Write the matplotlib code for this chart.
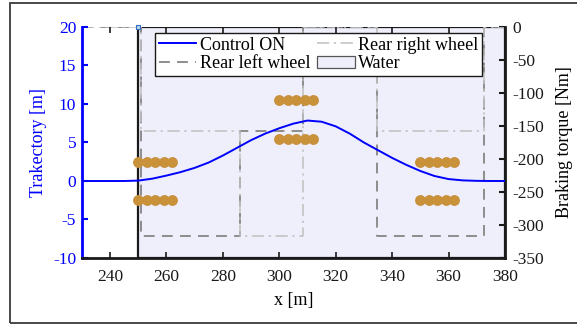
import matplotlib.pyplot as plt
from matplotlib.patches import Patch, Rectangle
from matplotlib.lines import Line2D

plt.rcParams['font.family'] = ['Liberation Serif', 'DejaVu Serif']
plt.rcParams['axes.unicode_minus'] = False

# vehicle trajectory (lateral position vs x)
traj_x = [230, 235, 240, 245, 250, 255, 260, 265, 270, 275, 280, 285, 290, 295,
          300, 305, 310, 315, 320, 325, 330, 335, 340, 345, 350, 355, 360, 365,
          370, 375, 380]
traj_y = [0, 0, 0, 0, 0.05, 0.3, 0.7, 1.15, 1.7, 2.4, 3.3, 4.3, 5.3, 6.15,
          6.85, 7.45, 7.85, 7.7, 7.1, 6.15, 5.0, 4.0, 3.0, 2.1, 1.3, 0.65, 0.25,
          0.08, 0.02, 0, 0]

# braking torque steps (value holds until next breakpoint)
step_x = [230, 251, 286, 308.5, 334.5, 372.5, 380]
rear_left = [0, -317, -158, 0, -317, 0, 0]
rear_right = [0, -158, -317, 0, -158, 0, 0]

# cone rows
cone_x1 = [250, 253, 256, 259, 262]
cone_x2 = [300, 303, 306, 309, 312]
cone_x3 = [350, 353, 356, 359, 362]
cone_rows = [(cone_x1, 2.5), (cone_x1, -2.5), (cone_x2, 10.5), (cone_x2, 5.5),
             (cone_x3, 2.5), (cone_x3, -2.5)]

water_start, water_end = 250, 380
tip_x, tip_y = [250], [20]

fig = plt.figure(figsize=(5.77, 3.24), dpi=100)
ax = fig.add_axes([0.1416, 0.2037, 0.7336, 0.713])
ax2 = ax.twinx()

# water region and torque on the right axis (drawn underneath)
water_col = '#efeffb'
ax2.add_patch(Rectangle((water_start, -350), water_end - water_start, 350,
                        facecolor=water_col, edgecolor='#1a1a1a', lw=1.6, zorder=0))
ax2.step(step_x, rear_left, where='post', color='#858585', lw=1.3,
         linestyle=(0, (6, 4)))
ax2.step(step_x, rear_right, where='post', color='#c0c0c0', lw=1.1,
         linestyle=(0, (8, 3, 1.5, 3)))
ax2.set_ylim(-350, 0)
ax2.set_yticks(range(-350, 1, 50))

# trajectory and cones on the left axis, on top
ax.set_zorder(ax2.get_zorder() + 1)
ax.patch.set_visible(False)
for cx, cy in cone_rows:
    ax.plot(cx, [cy] * len(cx), 'o', color='#c8913a', ms=6.8, zorder=3)
ax.plot(traj_x, traj_y, color='#0000ff', lw=1.4, zorder=4)
ax.plot(tip_x, tip_y, 's', ms=3, mfc='#bcd6f0', mec='#2f6fc0', mew=0.8,
        clip_on=False, zorder=5)

ax.set_xlim(230, 380)
ax.set_ylim(-10, 20)
ax.set_xticks(range(240, 381, 20))
ax.set_yticks(range(-10, 21, 5))

fs = 12.5
ax.tick_params(axis='x', direction='in', top=True, length=4, width=1.2,
               labelsize=fs, pad=8, colors='#1a1a1a')
ax.tick_params(axis='y', direction='in', length=4, width=1.5, labelsize=fs,
               colors='#0000ff', pad=4)
ax2.tick_params(axis='y', direction='in', length=4, width=1.5, labelsize=fs,
                colors='#1a1a1a', pad=5)

for s in ['top', 'right']:
    ax.spines[s].set_visible(False)
for s in ['top', 'left', 'bottom']:
    ax2.spines[s].set_visible(False)
ax.spines['left'].set_color('#0000ff')
ax.spines['left'].set_linewidth(2)
ax.spines['bottom'].set_color('#1a1a1a')
ax.spines['bottom'].set_linewidth(2)
ax2.spines['right'].set_color('#1a1a1a')
ax2.spines['right'].set_linewidth(2)

ax.set_xlabel('x [m]', fontsize=13, labelpad=5)
ax.set_ylabel('Trakectory [m]', fontsize=13, color='#0000ff', labelpad=4)
ax2.set_ylabel('Braking torque [Nm]', fontsize=13, labelpad=9)

handles = [
    Line2D([], [], color='#0000ff', lw=1.4),
    Line2D([], [], color='#858585', lw=1.3, linestyle=(0, (6, 4))),
    Line2D([], [], color='#c0c0c0', lw=1.1, linestyle=(0, (8, 3, 1.5, 3))),
    Patch(facecolor=water_col, edgecolor='#555555', lw=0.9),
]
labels = ['Control ON', 'Rear left wheel', 'Rear right wheel', 'Water']
leg = ax.legend(handles, labels, ncol=2, loc='upper left',
                bbox_to_anchor=(0.173, 0.974), borderaxespad=0, fontsize=13,
                frameon=True, fancybox=False, edgecolor='#1a1a1a',
                handlelength=2.1, handletextpad=0.2, columnspacing=0.35,
                labelspacing=0.1, borderpad=0.2)
leg.get_frame().set_linewidth(1.0)
leg.get_frame().set_alpha(1)

# outer frame around the figure
fig.patches.append(Rectangle((10 / 577, 1.5 / 324), 1.05, 1 - 4.5 / 324,
                             transform=fig.transFigure, fill=False,
                             edgecolor='#3a3a3a', lw=1.3))

fig.savefig('out.png', dpi=100)
